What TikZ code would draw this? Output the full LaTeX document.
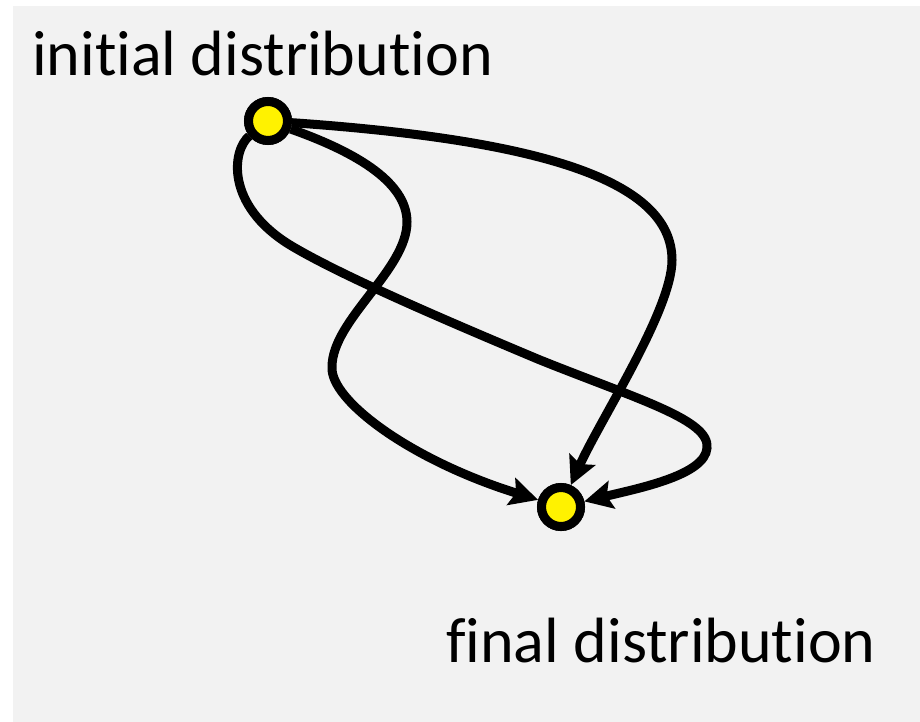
\documentclass[tikz,border=0pt]{standalone}
\usepackage{fontspec}
\setmainfont{Carlito}[Ligatures={NoCommon,NoRequired,NoContextual}]
\usetikzlibrary{arrows.meta}
\definecolor{bggray}{HTML}{F2F2F2}
\tikzset{
  dist/.style={circle, draw=black, fill=yellow, line width=9pt, minimum size=39pt, inner sep=0pt},
  flow/.style={line width=9pt, -{Stealth[length=28pt,width=28pt,inset=5pt]}},
  lbl/.style={anchor=base west, inner sep=0pt, font=\fontsize{64}{70}\selectfont}
}
\begin{document}
\begin{tikzpicture}[x=1pt,y=-1pt]
\useasboundingbox (0,0) rectangle (920,722);
\fill[bggray] (13,6) rectangle (920,722);
\node[lbl] (t1) at (32,76) {initial distribution};
\node[lbl] (t2) at (446,662) {final distribution};
\node[dist] (s) at (268,121) {};
\node[dist] (e) at (561,507) {};
% curve A
\draw[flow] (s) .. controls (540,140) and (672,180) .. (672,260)
  .. controls (672,310) and (600,420) .. (e);
% curve B
\draw[flow] (s) .. controls (232,150) and (225,205) .. (290,245)
  .. controls (340,275) and (440,318) .. (540,360)
  .. controls (640,400) and (710,420) .. (707,448)
  .. controls (705,475) and (640,488) .. (e);
% curve C
\draw[flow] (s) .. controls (350,150) and (407,180) .. (407,222)
  .. controls (407,270) and (332,320) .. (332,367)
  .. controls (330,400) and (410,460) .. (e);
\node[dist] at (s) {};
\node[dist] at (e) {};
\end{tikzpicture}
\end{document}
